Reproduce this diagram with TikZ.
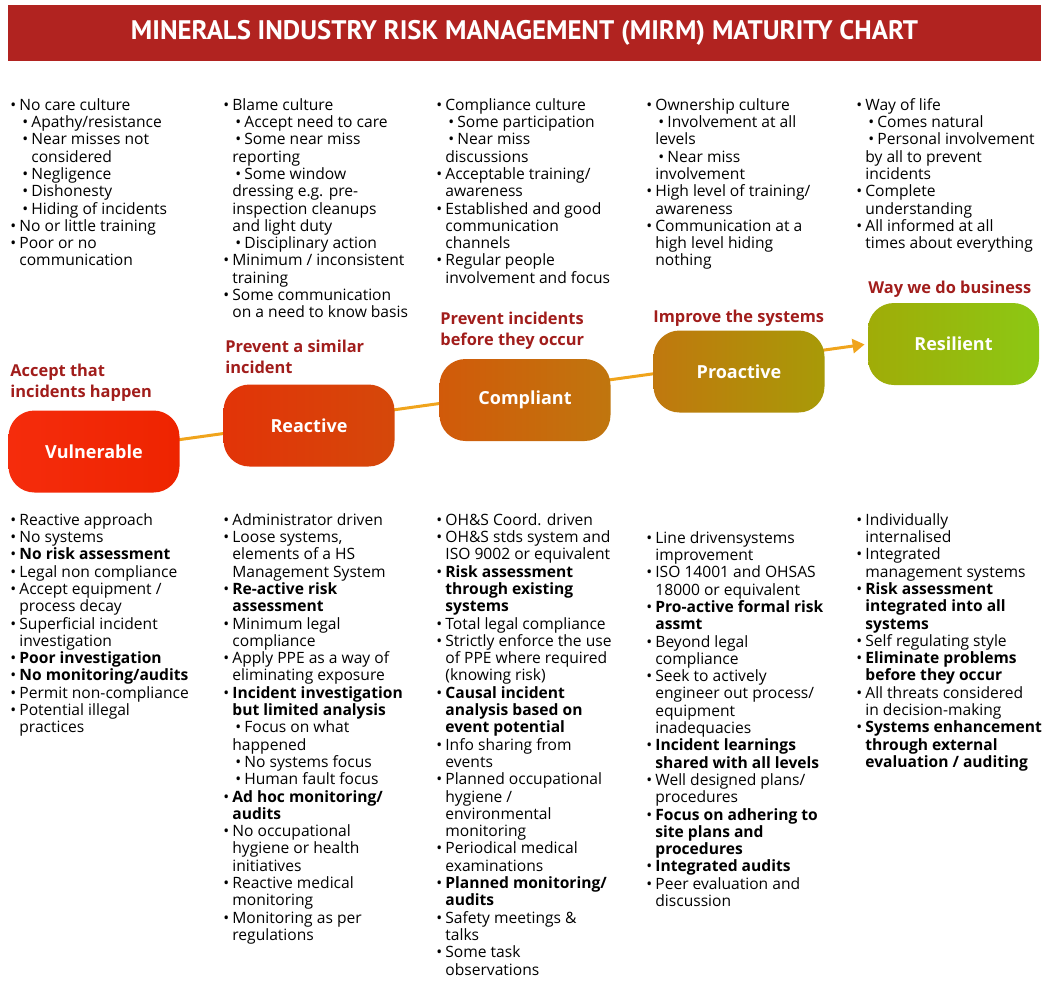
\documentclass[tikz,border=0pt]{standalone}
\usepackage{fontspec}
\setmainfont{Open Sans}
\newfontfamily\titlefont{PT Sans}
\usetikzlibrary{arrows.meta,backgrounds}

\definecolor{barred}{HTML}{B12320}
\definecolor{headred}{HTML}{A11D1B}
\definecolor{linkorange}{HTML}{F0A41C}
\definecolor{vulL}{HTML}{F52C0C}
\definecolor{vulR}{HTML}{EE2400}
\definecolor{reaL}{HTML}{E23408}
\definecolor{reaR}{HTML}{D5480A}
\definecolor{comL}{HTML}{D15A0A}
\definecolor{comR}{HTML}{C0760E}
\definecolor{proL}{HTML}{C0780E}
\definecolor{proR}{HTML}{A89A08}
\definecolor{resL}{HTML}{A0AC08}
\definecolor{resR}{HTML}{8CC814}

\newcommand{\bu}{\makebox[4.5pt][l]{\textbullet}}
\newcommand{\sbu}{\hspace*{6pt}\bu}
\newcommand{\ind}{\hspace*{4.5pt}}
\newcommand{\sind}{\hspace*{10.5pt}}

\tikzset{
  stage/.style={rounded corners=13pt, minimum width=85.5pt, minimum height=41pt,
    inner sep=0pt, text=white, font=\fontsize{9}{11}\selectfont\bfseries},
  lst/.style={anchor=north west, align=left, inner sep=0pt,
    font=\fontsize{7.8}{8.65}\selectfont,
    execute at begin node={\rule{0pt}{6.5pt}}},
  goal/.style={anchor=north west, align=left, inner sep=0pt, text=headred,
    font=\fontsize{8.2}{10.5}\selectfont\bfseries,
    execute at begin node={\rule{0pt}{7pt}}},
  link/.style={draw=linkorange, line width=1.5pt,
    -{Triangle[width=7pt,length=6pt]}, shorten >=1.5pt}
}

\begin{document}
\begin{tikzpicture}[x=0.5pt,y=-0.5pt]
  \useasboundingbox (0,0) rectangle (1043,981);

  % title
  \node[fill=barred, minimum width=516.5pt, minimum height=28pt, inner sep=0pt,
    text=white, font=\titlefont\fontsize{13.4}{15}\selectfont\bfseries] (title) at (524.5,33)
    {MINERALS INDUSTRY RISK MANAGEMENT (MIRM) MATURITY CHART};

  % stages
  \node[stage, left color=vulL, right color=vulR] (vul) at (94,451.5) {Vulnerable};
  \node[stage, left color=reaL, right color=reaR] (rea) at (309,425.5) {Reactive};
  \node[stage, left color=comL, right color=comR] (com) at (525,400) {Compliant};
  \node[stage, left color=proL, right color=proR] (pro) at (739,371.5) {Proactive};
  \node[stage, left color=resL, right color=resR] (res) at (953.5,344) {Resilient};

  \begin{scope}[on background layer]
    \draw[link] (vul.center) -- (res.west);
  \end{scope}

  % goals
  \node[goal] (g1) at (10,364) {Accept that\\incidents happen};
  \node[goal] (g2) at (225,340) {Prevent a similar\\incident};
  \node[goal] (g3) at (440,312) {Prevent incidents\\before they occur};
  \node[goal] (g4) at (653,308) {Improve the systems};
  \node[goal] (g5) at (868,279) {Way we do business};

  % culture
  \node[lst] (c1) at (10,98) {\bu No care culture\\
    \sbu Apathy/resistance\\
    \sbu Near misses not\\
    \sind considered\\
    \sbu Negligence\\
    \sbu Dishonesty\\
    \sbu Hiding of incidents\\
    \bu No or little training\\
    \bu Poor or no\\
    \ind communication};
  \node[lst] (c2) at (223,98) {\bu Blame culture\\
    \sbu Accept need to care\\
    \sbu Some near miss\\
    \ind reporting\\
    \sbu Some window\\
    \ind dressing e.g. pre-\\
    \ind inspection cleanups\\
    \ind and light duty\\
    \sbu Disciplinary action\\
    \bu Minimum / inconsistent\\
    \ind training\\
    \bu Some communication\\
    \ind on a need to know basis};
  \node[lst] (c3) at (436,98) {\bu Compliance culture\\
    \sbu Some participation\\
    \sbu Near miss\\
    \ind discussions\\
    \bu Acceptable training/\\
    \ind awareness\\
    \bu Established and good\\
    \ind communication\\
    \ind channels\\
    \bu Regular people\\
    \ind involvement and focus};
  \node[lst] (c4) at (646,98) {\bu Ownership culture\\
    \sbu Involvement at all\\
    \ind levels\\
    \sbu Near miss\\
    \ind involvement\\
    \bu High level of training/\\
    \ind awareness\\
    \bu Communication at a\\
    \ind high level hiding\\
    \ind nothing};
  \node[lst] (c5) at (856,98) {\bu Way of life\\
    \sbu Comes natural\\
    \sbu Personal involvement\\
    \ind by all to prevent\\
    \ind incidents\\
    \bu Complete\\
    \ind understanding\\
    \bu All informed at all\\
    \ind times about everything};

  % practice
  \node[lst] (p1) at (10,513) {\bu Reactive approach\\
    \bu No systems\\
    \bu \textbf{No risk assessment}\\
    \bu Legal non compliance\\
    \bu Accept equipment /\\
    \ind process decay\\
    \bu Superficial incident\\
    \ind investigation\\
    \bu \textbf{Poor investigation}\\
    \bu \textbf{No monitoring/audits}\\
    \bu Permit non-compliance\\
    \bu Potential illegal\\
    \ind practices};
  \node[lst] (p2) at (223,513) {\bu Administrator driven\\
    \bu Loose systems,\\
    \ind elements of a HS\\
    \ind Management System\\
    \bu \textbf{Re-active risk}\\
    \ind \textbf{assessment}\\
    \bu Minimum legal\\
    \ind compliance\\
    \bu Apply PPE as a way of\\
    \ind eliminating exposure\\
    \bu \textbf{Incident investigation}\\
    \ind \textbf{but limited analysis}\\
    \sbu Focus on what\\
    \ind happened\\
    \sbu No systems focus\\
    \sbu Human fault focus\\
    \bu \textbf{Ad hoc monitoring/}\\
    \ind \textbf{audits}\\
    \bu No occupational\\
    \ind hygiene or health\\
    \ind initiatives\\
    \bu Reactive medical\\
    \ind monitoring\\
    \bu Monitoring as per\\
    \ind regulations};
  \node[lst] (p3) at (436,513) {\bu OH\&S Coord. driven\\
    \bu OH\&S stds system and\\
    \ind ISO 9002 or equivalent\\
    \bu \textbf{Risk assessment}\\
    \ind \textbf{through existing}\\
    \ind \textbf{systems}\\
    \bu Total legal compliance\\
    \bu Strictly enforce the use\\
    \ind of PPE where required\\
    \ind (knowing risk)\\
    \bu \textbf{Causal incident}\\
    \ind \textbf{analysis based on}\\
    \ind \textbf{event potential}\\
    \bu Info sharing from\\
    \ind events\\
    \bu Planned occupational\\
    \ind hygiene /\\
    \ind environmental\\
    \ind monitoring\\
    \bu Periodical medical\\
    \ind examinations\\
    \bu \textbf{Planned monitoring/}\\
    \ind \textbf{audits}\\
    \bu Safety meetings \&\\
    \ind talks\\
    \bu Some task\\
    \ind observations};
  \node[lst] (p4) at (646,531) {\bu Line drivensystems\\
    \ind improvement\\
    \bu ISO 14001 and OHSAS\\
    \ind 18000 or equivalent\\
    \bu \textbf{Pro-active formal risk}\\
    \ind \textbf{assmt}\\
    \bu Beyond legal\\
    \ind compliance\\
    \bu Seek to actively\\
    \ind engineer out process/\\
    \ind equipment\\
    \ind inadequacies\\
    \bu \textbf{Incident learnings}\\
    \ind \textbf{shared with all levels}\\
    \bu Well designed plans/\\
    \ind procedures\\
    \bu \textbf{Focus on adhering to}\\
    \ind \textbf{site plans and}\\
    \ind \textbf{procedures}\\
    \bu \textbf{Integrated audits}\\
    \bu Peer evaluation and\\
    \ind discussion};
  \node[lst] (p5) at (856,513) {\bu Individually\\
    \ind internalised\\
    \bu Integrated\\
    \ind management systems\\
    \bu \textbf{Risk assessment}\\
    \ind \textbf{integrated into all}\\
    \ind \textbf{systems}\\
    \bu Self regulating style\\
    \bu \textbf{Eliminate problems}\\
    \ind \textbf{before they occur}\\
    \bu All threats considered\\
    \ind in decision-making\\
    \bu \textbf{Systems enhancement}\\
    \ind \textbf{through external}\\
    \ind \textbf{evaluation / auditing}};
\end{tikzpicture}
\end{document}
